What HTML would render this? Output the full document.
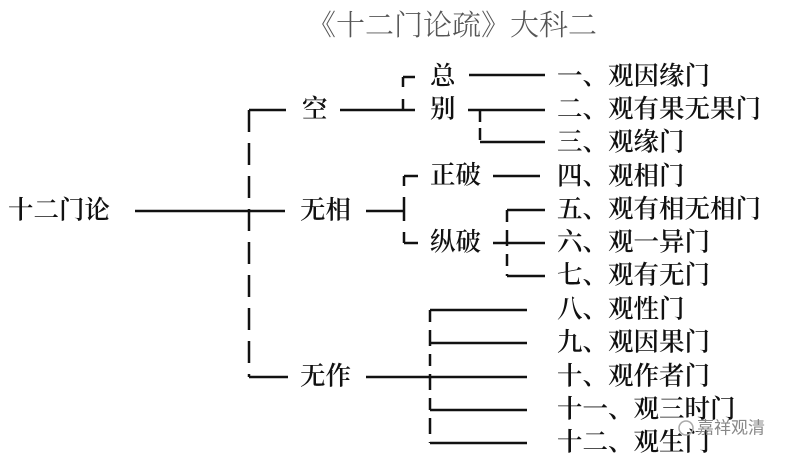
<!DOCTYPE html>
<html><head><meta charset="utf-8"><style>
html,body{margin:0;padding:0;background:#fff;}
svg{display:block}
text{font-family:"Liberation Serif","Noto Serif CJK SC",serif;font-size:25.5px;fill:#111;font-weight:600;dominant-baseline:central}
.t{font-size:29px;font-weight:300;fill:#555}
</style></head><body>
<svg width="786" height="462" viewBox="0 0 786 462" xmlns="http://www.w3.org/2000/svg">
<text x="452" y="26" text-anchor="middle" class="t">《十二门论疏》大科二</text>
<g stroke="#111" stroke-width="2.5" fill="none">
<line x1="135" y1="211" x2="285" y2="211"/>
<line x1="249" y1="110" x2="249" y2="377" stroke-dasharray="22,11"/>
<line x1="249" y1="110" x2="286" y2="110"/>
<line x1="249" y1="377" x2="288" y2="377"/>
<line x1="340" y1="110" x2="415" y2="110"/>
<line x1="403" y1="77" x2="403" y2="110" stroke-dasharray="10,12"/>
<line x1="403" y1="77" x2="415" y2="77"/>
<line x1="469" y1="75" x2="545" y2="75"/>
<line x1="468" y1="110" x2="545" y2="110"/>
<line x1="480" y1="110" x2="480" y2="142" stroke-dasharray="12,6"/>
<line x1="480" y1="142" x2="545" y2="142"/>
<line x1="366" y1="211" x2="405" y2="211"/>
<line x1="404" y1="176" x2="404" y2="243" stroke-dasharray="10,11,24,11,14"/>
<line x1="404" y1="176" x2="418" y2="176"/>
<line x1="404" y1="243" x2="418" y2="243"/>
<line x1="493" y1="176" x2="540" y2="176"/>
<line x1="493" y1="243" x2="545" y2="243"/>
<line x1="507" y1="210" x2="507" y2="276" stroke-dasharray="12,8,16,8"/>
<line x1="507" y1="210" x2="545" y2="210"/>
<line x1="507" y1="276" x2="545" y2="276"/>
<line x1="366" y1="377" x2="527" y2="377"/>
<line x1="430" y1="310" x2="430" y2="443" stroke-dasharray="12,8,16,8"/>
<line x1="430" y1="310" x2="527" y2="310"/>
<line x1="430" y1="343" x2="527" y2="343"/>
<line x1="430" y1="410" x2="527" y2="410"/>
<line x1="430" y1="443" x2="527" y2="443"/>
</g>
<text x="8" y="210">十二门论</text>
<text x="302" y="109">空</text>
<text x="300" y="210">无相</text>
<text x="300" y="376">无作</text>
<text x="430" y="76">总</text>
<text x="430" y="109">别</text>
<text x="430" y="175">正破</text>
<text x="430" y="242">纵破</text>
<text x="557" y="76">一、观因缘门</text>
<text x="557" y="109">二、观有果无果门</text>
<text x="557" y="142">三、观缘门</text>
<text x="557" y="176">四、观相门</text>
<text x="557" y="209">五、观有相无相门</text>
<text x="557" y="242">六、观一异门</text>
<text x="557" y="275">七、观有无门</text>
<text x="557" y="309">八、观性门</text>
<text x="557" y="342">九、观因果门</text>
<text x="557" y="376">十、观作者门</text>
<text x="557" y="409">十一、观三时门</text>
<text x="557" y="442">十二、观生门</text>
<circle cx="686" cy="428" r="7" fill="none" stroke="#aaa" stroke-width="1.5"/>
<text x="697" y="428" style="font-size:17px;font-weight:400;fill:#888;font-family:'Liberation Sans','Noto Sans CJK SC',sans-serif">嘉祥观清</text>
</svg>
</body></html>
